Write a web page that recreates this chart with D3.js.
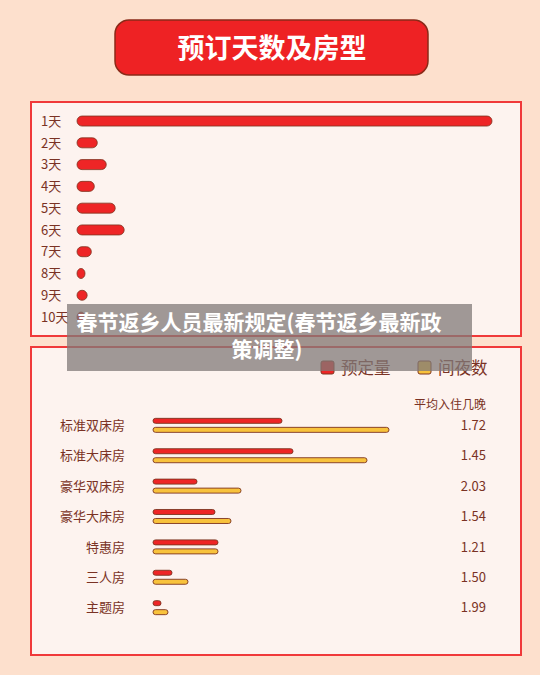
<!DOCTYPE html>
<html>
<head>
<meta charset="utf-8">
<script src="https://cdn.jsdelivr.net/npm/d3@7"></script>
<style>
  body { margin: 0; background: #fde0cd; }
  svg { display: block; }
</style>
</head>
<body>
<div id="chart"></div>
<script>
// data
var dayLabels = ["1天", "2天", "3天", "4天", "5天", "6天", "7天", "8天", "9天", "10天"];
var dayValues = [69.5, 3.4, 4.9, 2.9, 6.4, 7.9, 2.4, 1.0, 1.7, 1.3];

var roomTypes = ["标准双床房", "标准大床房", "豪华双床房", "豪华大床房", "特惠房", "三人房", "主题房"];
var bookings = [12.9, 14.0, 4.4, 6.2, 6.5, 1.9, 0.8];
var nights = [23.6, 21.4, 8.8, 7.8, 6.5, 3.5, 1.5];
var avgNights = ["1.72", "1.45", "2.03", "1.54", "1.21", "1.50", "1.99"];
var seriesNames = ["预定量", "间夜数"];

var W = 540, H = 675;
var font = "'Noto Sans CJK SC', 'Noto Sans', sans-serif";
var red = "#ee2526", yellow = "#f8c23c", outline = "#7e3420", txt = "#7a3224";

var svg = d3.select("#chart").append("svg")
    .attr("width", W)
    .attr("height", H)
    .style("font-family", font);

svg.append("rect").attr("width", W).attr("height", H).attr("fill", "#fde0cd");

// title button
svg.append("rect")
    .attr("x", 115).attr("y", 20).attr("width", 313).attr("height", 55)
    .attr("rx", 14)
    .attr("fill", "#ee2224").attr("stroke", "#8a2a18").attr("stroke-width", 1.5);
svg.append("text")
    .attr("x", 272).attr("y", 48).attr("dy", "0.36em")
    .attr("text-anchor", "middle")
    .attr("fill", "#fff").attr("font-size", 27).attr("font-weight", 600)
    .text("预订天数及房型");

// panels
[[31, 102, 490, 234], [31, 347, 490, 308]].forEach(function(p) {
  svg.append("rect")
      .attr("x", p[0]).attr("y", p[1]).attr("width", p[2]).attr("height", p[3])
      .attr("fill", "#fdf3ef").attr("stroke", "#f0393a").attr("stroke-width", 2);
});

// ---- top chart: days ----
var yDay = d3.scaleBand()
    .domain(dayLabels)
    .range([109.5, 328.6])
    .paddingInner(0.54).paddingOuter(0.3);
var xDay = d3.scaleLinear()
    .domain([0, 69.5])
    .range([0, 415]);

var gDay = svg.append("g");
gDay.selectAll("text")
    .data(dayLabels)
    .enter().append("text")
    .attr("x", 41)
    .attr("y", function(d) { return yDay(d) + yDay.bandwidth() / 2; })
    .attr("dy", "0.36em")
    .attr("fill", txt).attr("font-size", 13)
    .text(function(d) { return d; });

gDay.selectAll("rect")
    .data(dayValues)
    .enter().append("rect")
    .attr("x", 77)
    .attr("y", function(d, i) { return yDay(dayLabels[i]); })
    .attr("width", function(d) { return Math.max(xDay(d), yDay.bandwidth() * 0.8); })
    .attr("height", yDay.bandwidth())
    .attr("rx", yDay.bandwidth() / 2)
    .attr("fill", red).attr("stroke", outline).attr("stroke-width", 0.8);

// ---- bottom chart: room types ----
var yRoom = d3.scaleBand()
    .domain(roomTypes)
    .range([410, 623])
    .paddingInner(0.55).paddingOuter(0.28);
var xRoom = d3.scaleLinear()
    .domain([0, 23.6])
    .range([0, 236]);

var legend = svg.append("g");
seriesNames.forEach(function(name, i) {
  var lx = 321 + i * 97;
  legend.append("rect")
      .attr("x", lx).attr("y", 361).attr("width", 13).attr("height", 13).attr("rx", 2)
      .attr("fill", i === 0 ? red : yellow).attr("stroke", outline).attr("stroke-width", 1);
  legend.append("text")
      .attr("x", lx + 20).attr("y", 368).attr("dy", "0.36em")
      .attr("fill", txt).attr("font-size", 16.5)
      .text(name);
});

svg.append("text")
    .attr("x", 486).attr("y", 405).attr("dy", "0.36em")
    .attr("text-anchor", "end")
    .attr("fill", txt).attr("font-size", 12)
    .text("平均入住几晚");

var rows = svg.append("g").selectAll("g")
    .data(roomTypes)
    .enter().append("g")
    .attr("transform", function(d) { return "translate(0," + yRoom(d) + ")"; });

var bh = 5;
rows.append("text")
    .attr("x", 125).attr("y", yRoom.bandwidth() / 2).attr("dy", "0.36em")
    .attr("text-anchor", "end")
    .attr("fill", txt).attr("font-size", 13)
    .text(function(d) { return d; });

rows.append("rect")
    .attr("x", 153).attr("y", yRoom.bandwidth() / 2 - bh - 2)
    .attr("width", function(d, i) { return xRoom(bookings[i]); })
    .attr("height", bh).attr("rx", bh / 2)
    .attr("fill", red).attr("stroke", outline).attr("stroke-width", 0.9);

rows.append("rect")
    .attr("x", 153).attr("y", yRoom.bandwidth() / 2 + 2)
    .attr("width", function(d, i) { return xRoom(nights[i]); })
    .attr("height", bh).attr("rx", bh / 2)
    .attr("fill", yellow).attr("stroke", outline).attr("stroke-width", 0.9);

rows.append("text")
    .attr("x", 486).attr("y", yRoom.bandwidth() / 2).attr("dy", "0.36em")
    .attr("text-anchor", "end")
    .attr("fill", txt).attr("font-size", 13)
    .text(function(d, i) { return avgNights[i]; });

// grey caption overlay
svg.append("rect")
    .attr("x", 67).attr("y", 304).attr("width", 405).attr("height", 67)
    .attr("fill", "rgb(128,122,120)").attr("opacity", 0.75);
var cap = svg.append("text")
    .attr("text-anchor", "middle")
    .attr("fill", "#fff").attr("font-size", 21).attr("font-weight", "bold");
cap.append("tspan").attr("x", 259).attr("y", 330).text("春节返乡人员最新规定(春节返乡最新政");
cap.append("tspan").attr("x", 267).attr("y", 357).text("策调整)");
</script>
</body>
</html>
